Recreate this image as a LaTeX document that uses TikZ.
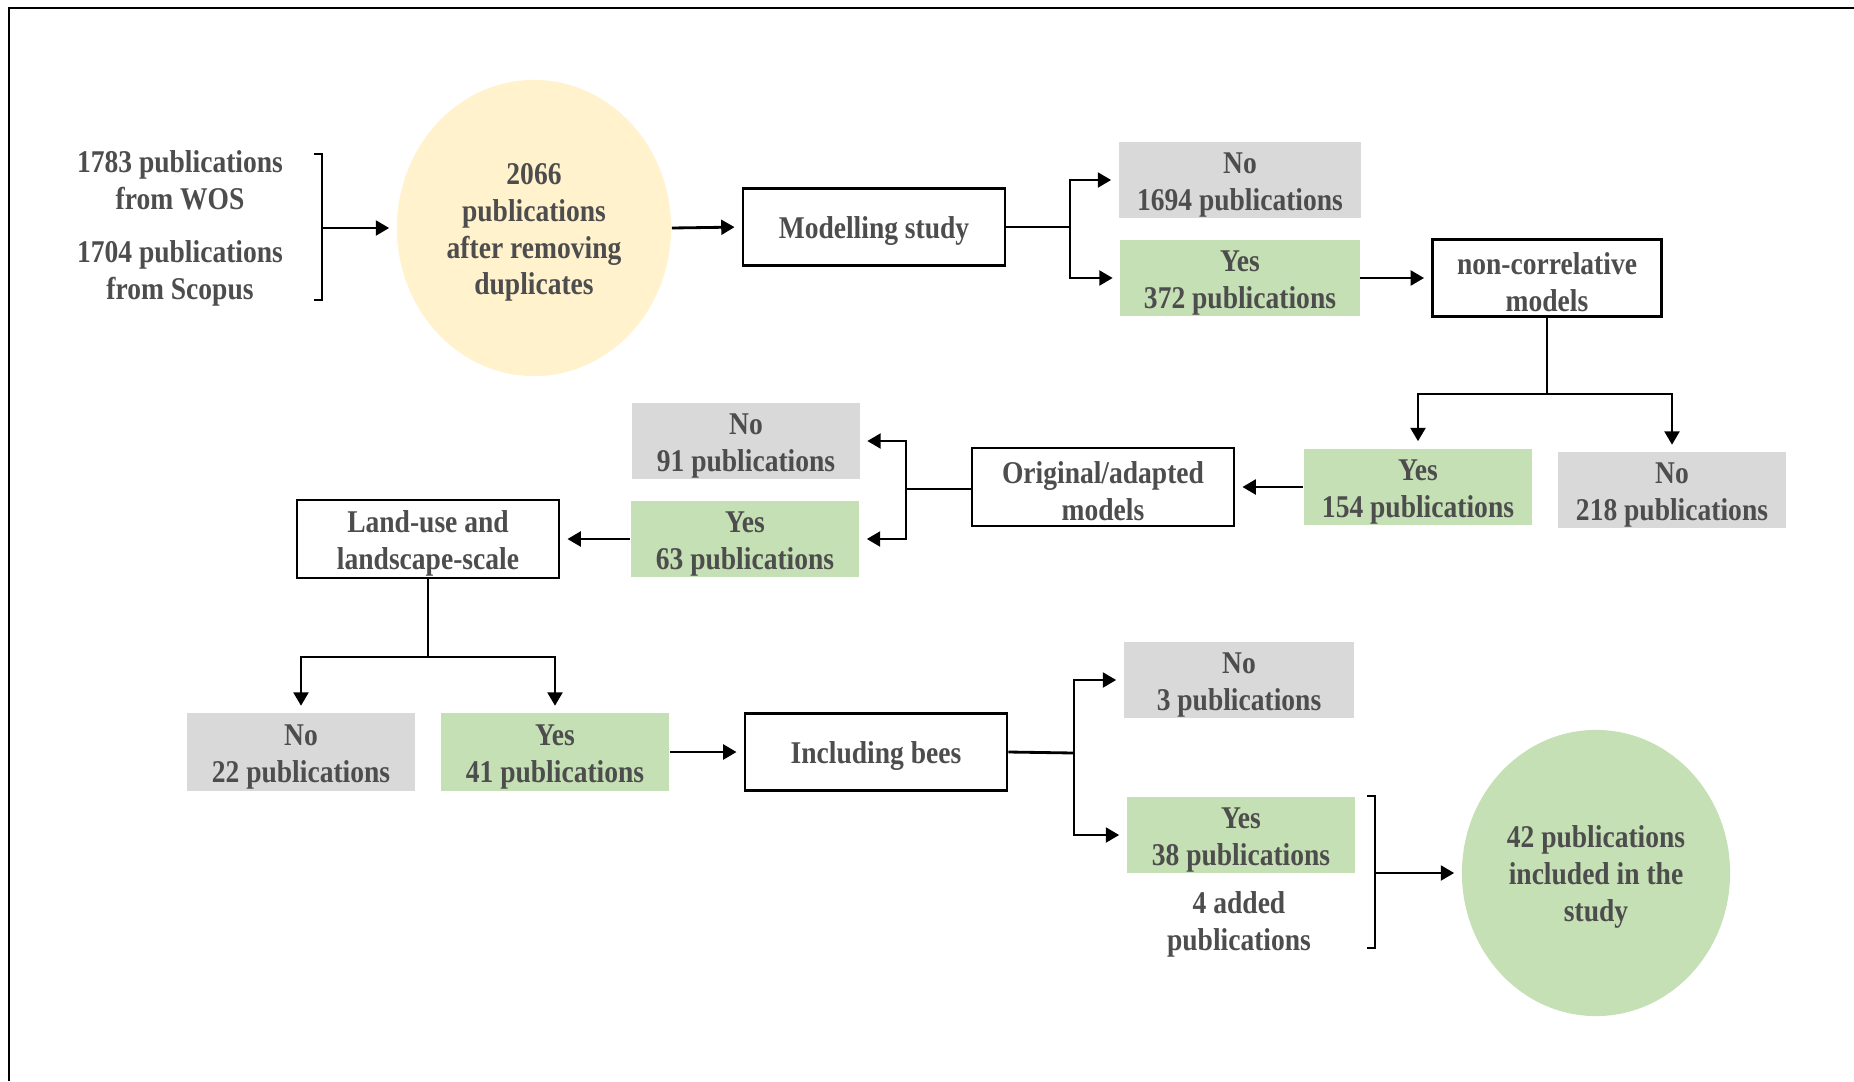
\documentclass[tikz,border=0pt]{standalone}
\usepackage{fontspec}
\setmainfont{Liberation Serif}[FakeStretch=0.87]
\usetikzlibrary{arrows.meta,shapes.geometric}
\definecolor{txtgray}{HTML}{4D4D4D}
\definecolor{nogray}{HTML}{D9D9D9}
\definecolor{yesgreen}{HTML}{C5E0B4}
\definecolor{dupyellow}{HTML}{FFF2CC}
\newcommand{\toppad}{\rule{0pt}{8.5pt}}

\begin{document}
\begin{tikzpicture}[x=0.01cm,y=-0.01cm,
  every node/.style={font=\bfseries\fontsize{9pt}{10.5pt}\selectfont,text=txtgray,align=center,inner sep=0pt},
  stepbox/.style={draw=black,line width=0.75pt,minimum width=2.62cm,minimum height=0.77cm},
  nobox/.style={fill=nogray,minimum width=2.28cm,minimum height=0.76cm},
  yesbox/.style={fill=yesgreen,minimum width=2.28cm,minimum height=0.76cm},
  arr/.style={line width=0.8pt,-{Triangle[length=3.8pt,width=4.2pt]},shorten >=2pt},
  link/.style={line width=0.8pt}]
\useasboundingbox (0,0) rectangle (1854,1081);
\fill [white] (0,0) rectangle (1854,1081);
\draw [line width=0.8pt] (9,1081) -- (9,8) -- (1854,8);

% sources
\node (wos) at (180,176) {\toppad 1783 publications\\from WOS};
\node (scopus) at (180,269) {\toppad 1704 publications\\from Scopus};
\draw [link] (314,154) -- (322,154) -- (322,300) -- (314,300);
\coordinate (srcbr) at (322,228);
\node (dup) at (534,228) [ellipse,fill=dupyellow,minimum width=2.74cm,minimum height=2.96cm] {\toppad 2066\\publications\\after removing\\duplicates};
\draw [arr] (srcbr) -- (dup.west);

% modelling study
\node (model) at (874,227) [stepbox] {\toppad Modelling study};
\node (no1694) at (1240,180) [nobox,minimum width=2.42cm] {\toppad No\\1694 publications};
\node (yes372) at (1240,278) [yesbox,minimum width=2.39cm] {\toppad Yes\\372 publications};
\coordinate (mbr) at (1070,227);
\draw [arr] (dup.east) -- (model.west);
\draw [link] (model.east) -- (mbr);
\draw [arr] (mbr) |- (no1694.west);
\draw [arr] (mbr) |- (yes372.west);

% non-correlative
\node (noncorr) at (1547,278) [stepbox,minimum width=2.29cm] {\toppad non-correlative\\models};
\draw [arr] (yes372.east) -- (noncorr.west);
\node (yes154) at (1418,487) [yesbox] {\toppad Yes\\154 publications};
\node (no218) at (1672,490) [nobox,minimum width=2.27cm,minimum height=0.75cm] {\toppad No\\218 publications};
\coordinate (ncbr) at (1547,394);
\draw [link] (noncorr.south) -- (ncbr);
\draw [arr] (ncbr) -| (yes154.north);
\draw [arr] (ncbr) -| (no218.north);

% original/adapted
\node (orig) at (1103,487) [stepbox,minimum height=0.78cm] {\toppad Original/adapted\\models};
\draw [arr] (yes154.west) -- (orig.east);
\node (no91) at (746,441) [nobox,minimum width=2.27cm] {\toppad No\\91 publications};
\node (yes63) at (745,539) [yesbox] {\toppad Yes\\63 publications};
\coordinate (obr) at (906,489);
\draw [link] (orig.west |- obr) -- (obr);
\draw [arr] (obr) |- (no91.east);
\draw [arr] (obr) |- (yes63.east);

% land-use
\node (landuse) at (428,539) [stepbox,minimum height=0.78cm] {\toppad Land-use and\\landscape-scale};
\draw [arr] (yes63.west) -- (landuse.east);
\node (no22) at (301,752) [nobox,minimum width=2.27cm,minimum height=0.77cm] {\toppad No\\22 publications};
\node (yes41) at (555,752) [yesbox,minimum height=0.77cm] {\toppad Yes\\41 publications};
\coordinate (lbr) at (428,657);
\draw [link] (landuse.south) -- (lbr);
\draw [arr] (lbr) -| (no22.north);
\draw [arr] (lbr) -| (yes41.north);

% bees
\node (bees) at (876,752) [stepbox] {\toppad Including bees};
\draw [arr] (yes41.east) -- (bees.west);
\node (no3) at (1239,680) [nobox,minimum width=2.3cm] {\toppad No\\3 publications};
\node (yes38) at (1241,835) [yesbox] {\toppad Yes\\38 publications};
\node (added) at (1239,920) {\toppad 4 added\\publications};
\coordinate (bbr) at (1074,753);
\draw [link] (bees.east) -- (bbr);
\draw [arr] (bbr) |- (no3.west);
\draw [arr] (bbr) |- (yes38.west);

% result
\draw [link] (1367,796) -- (1375,796) -- (1375,948) -- (1367,948);
\coordinate (resbr) at (1375,873);
\node (final) at (1596,873) [ellipse,fill=yesgreen,minimum width=2.68cm,minimum height=2.86cm] {\toppad 42 publications\\included in the\\study};
\draw [arr] (resbr) -- (final.west);
\end{tikzpicture}
\end{document}
